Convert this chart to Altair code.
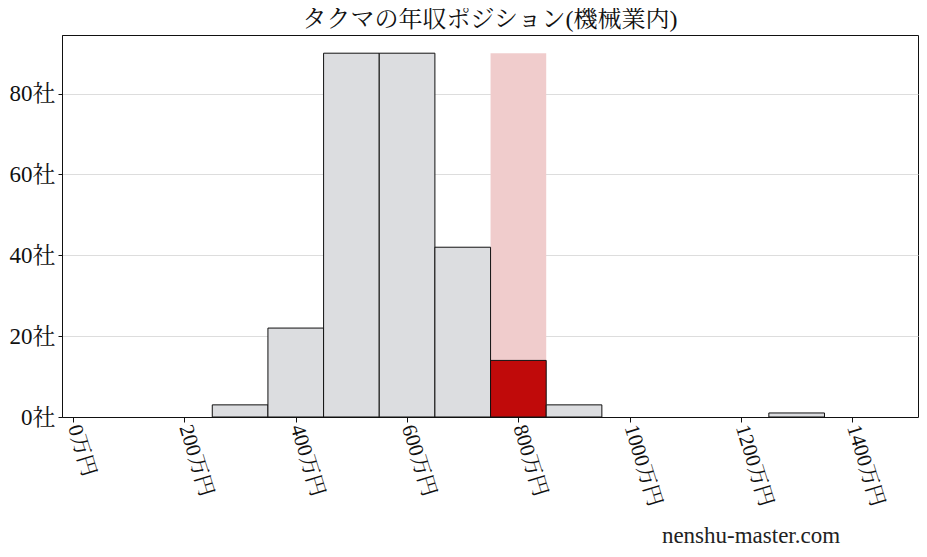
import altair as alt
import pandas as pd

# data
bin_start = [250, 350, 450, 550, 650, 750, 850, 1250]
bin_end = [350, 450, 550, 650, 750, 850, 950, 1350]
counts = [3, 22, 90, 90, 42, 14, 3, 1]
highlight = [False, False, False, False, False, True, False, False]
band_start = [750]
band_end = [850]
band_top = [90]
x_ticks = [0, 200, 400, 600, 800, 1000, 1200, 1400]
y_ticks = [0, 20, 40, 60, 80]
title_text = "タクマの年収ポジション(機械業内)"
watermark = "nenshu-master.com"

FONT = "Liberation Serif, Noto Serif CJK JP, Noto Sans CJK JP"

bars = pd.DataFrame({"start": bin_start, "end": bin_end, "count": counts, "hl": highlight})
band = pd.DataFrame({"start": band_start, "end": band_end, "top": band_top})

xscale = alt.Scale(domain=[-20, 1518], nice=False, zero=False)
yscale = alt.Scale(domain=[0, 94.5], nice=False, zero=True)

xaxis = alt.Axis(values=x_ticks, labelExpr="datum.value + '万円'", labelAngle=73,
                 labelAlign="left", labelBaseline="middle", labelFontSize=21,
                 labelFont=FONT, labelColor="#111", tickSize=5, tickColor="#111",
                 domainColor="#111", grid=False, title=None, labelPadding=3,
                 labelOverlap=False, labelFlush=False)
yaxis = alt.Axis(values=y_ticks, labelExpr="datum.value + '社'", labelFontSize=23,
                 labelFont=FONT, labelColor="#111", tickSize=4, tickColor="#111",
                 domainColor="#111", grid=True, gridColor="#dddddd", gridWidth=1,
                 title=None, labelPadding=3)

bg = alt.Chart(band).mark_rect(color="#f0cccc").encode(
    x=alt.X("start:Q", scale=xscale, axis=xaxis),
    x2="end:Q",
    y=alt.Y("top:Q", scale=yscale, axis=yaxis),
    y2=alt.datum(0),
)

rects = alt.Chart(bars).mark_rect(stroke="#111", strokeWidth=1).encode(
    x=alt.X("start:Q", scale=xscale),
    x2="end:Q",
    y=alt.Y("count:Q", scale=yscale),
    y2=alt.datum(0),
    fill=alt.condition("datum.hl", alt.value("#c00a0a"), alt.value("#dcdde0")),
)

wm = alt.Chart(pd.DataFrame({"t": [watermark]})).mark_text(
    font=FONT, fontSize=23, color="#222", align="center", baseline="alphabetic"
).encode(text="t:N", x=alt.value(689), y=alt.value(508))

chart = alt.layer(bg, rects, wm).properties(
    width=856, height=382,
    title=alt.TitleParams(title_text, font=FONT, fontSize=24, fontWeight="normal",
                          color="#111", offset=3, anchor="middle"),
    autosize=alt.AutoSizeParams(type="none"),
    padding={"left": 54, "top": 27, "right": 1, "bottom": 132},
).configure_view(stroke="#111", strokeWidth=1)

chart.save("out.html", embed_options={"renderer": "svg", "actions": False})
